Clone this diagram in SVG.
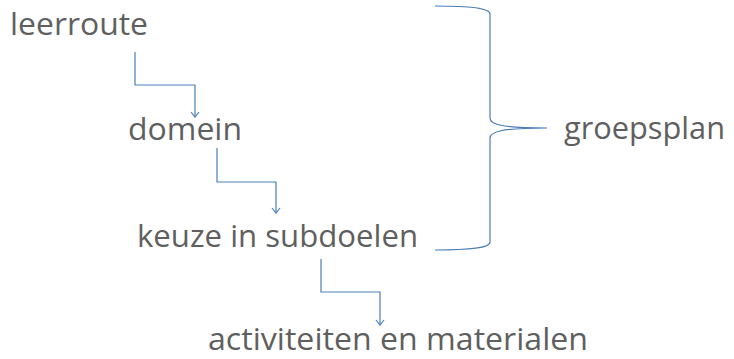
<svg xmlns="http://www.w3.org/2000/svg" width="734" height="359" viewBox="0 0 734 359">
<defs>
<style>
text{font-family:"Open Sans","Liberation Sans",sans-serif;font-size:31px;fill:#5f5f5f}
.c{fill:none;stroke:#4a7ebb;stroke-width:1.2}
</style>
<marker id="ar" viewBox="0 0 10 10" refX="9" refY="5" markerWidth="10" markerHeight="10" markerUnits="userSpaceOnUse" orient="auto">
<path d="M4,1 L9,5 L4,9" fill="none" stroke="#4a7ebb" stroke-width="1.2"/>
</marker>
</defs>
<rect width="734" height="359" fill="#fff"/>
<g id="leerroute"><text x="10" y="35" textLength="138" lengthAdjust="spacingAndGlyphs">leerroute</text></g>
<g id="domein"><text x="128" y="140" textLength="114" lengthAdjust="spacingAndGlyphs">domein</text></g>
<g id="keuze"><text x="137" y="247" textLength="281" lengthAdjust="spacingAndGlyphs">keuze in subdoelen</text></g>
<g id="activiteiten"><text x="208" y="350" textLength="380" lengthAdjust="spacingAndGlyphs">activiteiten en materialen</text></g>
<g id="groepsplan"><text x="564" y="139" textLength="161" lengthAdjust="spacingAndGlyphs">groepsplan</text></g>
<g id="connectors">
<path class="c" d="M135,52 V85 H195 V117" marker-end="url(#ar)"/>
<path class="c" d="M217,148 V182 H276 V213" marker-end="url(#ar)"/>
<path class="c" d="M321,259 V292 H380 V325" marker-end="url(#ar)"/>
<path class="c" d="M435,6 C470,6 490,8 490,14 V118 C490,124 500,128 547,128 C500,128 490,132 490,138 V242 C490,248 470,250 435,250"/>
</g>
</svg>
